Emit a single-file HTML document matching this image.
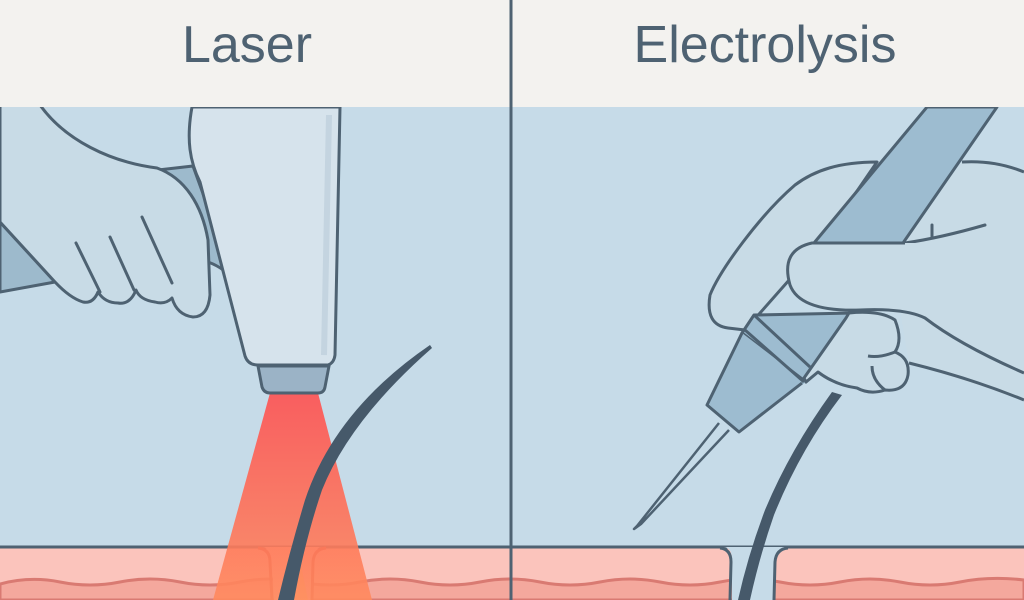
<!DOCTYPE html>
<html><head><meta charset="utf-8"><style>
html,body{margin:0;padding:0;width:1024px;height:600px;overflow:hidden;background:#f3f2ef}
svg{display:block}
</style></head><body>
<svg width="1024" height="600" viewBox="0 0 1024 600" xmlns="http://www.w3.org/2000/svg">
<defs>
<linearGradient id="beam" x1="0" y1="0" x2="0" y2="1">
<stop offset="0" stop-color="#ff5050"/><stop offset="1" stop-color="#ff8a5e"/>
</linearGradient>
<clipPath id="lc"><rect x="0" y="107" width="511" height="493"/></clipPath>
<clipPath id="rc"><rect x="513" y="107" width="511" height="493"/></clipPath>
</defs>
<rect x="0" y="0" width="1024" height="107" fill="#f3f2ef"/>
<rect x="0" y="107" width="1024" height="493" fill="#c6dbe8"/>
<text x="247" y="62" font-family="Liberation Sans, sans-serif" font-size="52" fill="#4e6272" text-anchor="middle">Laser</text>
<text x="765" y="62" font-family="Liberation Sans, sans-serif" font-size="52" fill="#4e6272" text-anchor="middle">Electrolysis</text>

<!-- skin -->
<rect x="0" y="548" width="1024" height="52" fill="#fbc4bc"/>
<path d="M0,584 Q30,576 60,582 T120,582 T180,582 T240,582 T300,582 T360,582 T420,582 T480,582 T540,582 T600,582 T660,582 T720,582 T780,582 T840,582 T900,582 T960,582 T1024,580 L1024,600 L0,600Z" fill="#f4a89d" stroke="#d97a72" stroke-width="3"/>
<line x1="0" y1="547" x2="1024" y2="547" stroke="#4e6272" stroke-width="3"/>

<g clip-path="url(#lc)">
<!-- follicle left -->
<path d="M262,547 Q272,548 272,560 L274,600 L312,600 L312,560 Q312,548 322,547 Z" fill="#fbc4bc"/>
<path d="M272,600 L270,562 Q270,549 258,548" fill="none" stroke="#d05a50" stroke-width="3"/>
<path d="M312,600 L313,562 Q314,549 326,548" fill="none" stroke="#d05a50" stroke-width="3"/>
<path d="M280,600 Q285,575 300,560 L308,600Z" fill="#f9d080"/>
<!-- beam -->
<path d="M270,393 L318,393 L372,600 L213,600 Z" fill="url(#beam)" opacity="0.9"/>
<!-- hair -->
<path d="M430,345 Q335,410 305,500 Q290,550 278,600 L294,600 Q305,540 322,490 Q350,420 432,348 Z" fill="#46596a"/>
<!-- sleeve -->
<path d="M0,222 L55,282 L0,292 Z" fill="#9dbacc" stroke="#4e6272" stroke-width="3" stroke-linejoin="round"/>
<!-- grip piece -->
<path d="M158,170 L193,166 L235,282 Q225,268 208,262 Z" fill="#9dbacc" stroke="#4e6272" stroke-width="3" stroke-linejoin="round"/>
<!-- hand -->
<path d="M40,105 C65,140 110,162 157,168 C185,178 202,205 208,240 L210,295 Q208,317 193,317 Q177,315 172,298 Q165,305 155,302 Q140,300 136,290 Q130,305 118,303 Q105,303 98,292 Q93,304 83,302 Q70,298 55,282 L0,222 L0,105 Z" fill="#c8dbe6" stroke="#4e6272" stroke-width="3" stroke-linejoin="round"/>
<path d="M76,243 L100,292 M110,237 L134,290 M142,217 L172,283" stroke="#4e6272" stroke-width="3" stroke-linecap="round" fill="none"/>
<!-- handle -->
<path d="M192,107 C186,140 190,162 200,182 L245,356 Q248,365 258,365 L328,365 Q334,363 335,355 L340,107 Z" fill="#d6e3ec" stroke="#4e6272" stroke-width="3"/>
<path d="M329,115 L324,355" stroke="#c4d4e0" stroke-width="6"/>
<path d="M258,366 L262,387 Q264,393 270,393 L318,393 Q324,393 325,387 L329,366 Z" fill="#9bb3c6" stroke="#4e6272" stroke-width="3"/>
</g>

<g clip-path="url(#rc)">
<!-- follicle right -->
<path d="M724,547 Q732,548 732,560 L732,600 L774,600 L776,560 Q776,548 786,547 Z" fill="#c6dbe8"/>
<path d="M730,600 L731,562 Q731,549 720,548" fill="none" stroke="#4e6272" stroke-width="3"/>
<path d="M774,600 L775,562 Q776,549 788,548" fill="none" stroke="#4e6272" stroke-width="3"/>
<!-- hair right -->
<path d="M832,392 Q790,450 765,510 Q748,555 738,600 L750,600 Q760,555 774,515 Q800,450 842,395 Z" fill="#46596a"/>
<!-- needle -->
<path d="M719,423 L637,526 L634,529 L641,524 L729,430" fill="#c6dbe8" stroke="#4e6272" stroke-width="2.5" stroke-linejoin="round"/>
<!-- upper finger -->
<path d="M877,162 C840,162 815,170 795,185 C760,215 720,270 710,295 Q705,325 728,328 L745,330 L820,245 Z" fill="#c8dbe6" stroke="#4e6272" stroke-width="3" stroke-linejoin="round"/>
<!-- hand back right -->
<path d="M962,162 Q995,160 1024,172 L1024,400 Q960,380 909,363 L900,310 L850,310 L900,240 Z" fill="#c8dbe6"/>
<!-- shaft -->
<path d="M927,107 L997,107 L903,243 L814,243 Z" fill="#9dbcd0" stroke="#4e6272" stroke-width="3" stroke-linejoin="round"/>
<path d="M962,162 Q995,160 1024,172" fill="none" stroke="#4e6272" stroke-width="3"/>
<path d="M905,243 Q940,238 985,225 M932,225 L932,237" fill="none" stroke="#4e6272" stroke-width="3" stroke-linecap="round"/>
<!-- grip -->
<path d="M754,315 L854,313 L806,382 L742,333 Z" fill="#9dbcd0" stroke="#4e6272" stroke-width="3" stroke-linejoin="round"/>
<path d="M742,333 L806,382 L802,385 L739,432 L707,405 Z" fill="#9dbcd0"/>
<path d="M745,330 L804,382 M742,333 L707,405 L739,432 L802,383" fill="none" stroke="#4e6272" stroke-width="3" stroke-linejoin="round"/>
<path d="M754,315 L810,367" fill="none" stroke="#4e6272" stroke-width="3"/>
<!-- thumb -->
<path d="M812,243 L1024,243 L1024,373 Q960,345 925,318 Q905,308 860,310 Q800,312 790,285 Q780,250 812,243 Z" fill="#c8dbe6"/>
<path d="M905,243 L812,243 Q780,250 790,285 Q800,312 860,310 Q905,308 925,318 Q960,345 1024,373" fill="none" stroke="#4e6272" stroke-width="3" stroke-linejoin="round"/>
<!-- curled fingers -->
<path d="M849,313 Q880,310 895,320 Q903,340 895,352 Q910,358 908,375 Q905,392 885,390 Q870,395 857,388 Q835,385 818,372 L806,382 L804,378 L846,318 Z" fill="#c8dbe6" stroke="#4e6272" stroke-width="3" stroke-linejoin="round"/>
<path d="M895,352 Q880,358 868,356 M885,390 Q872,380 872,366" fill="none" stroke="#4e6272" stroke-width="3"/>
<path d="M909,363 Q970,378 1024,400" fill="none" stroke="#4e6272" stroke-width="3"/>
</g>

<line x1="511" y1="0" x2="511" y2="600" stroke="#4e6272" stroke-width="3"/>
</svg>
</body></html>
